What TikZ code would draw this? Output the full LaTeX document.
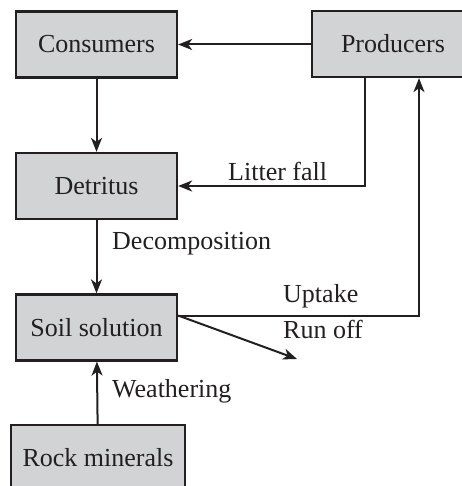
\documentclass[tikz,border=0pt]{standalone}
\usepackage{fontspec}
\setmainfont{Liberation Serif}
\usetikzlibrary{arrows.meta}
\definecolor{boxgray}{RGB}{210,211,213}
\definecolor{ink}{RGB}{35,31,32}
\tikzset{
  box/.style={draw=ink, line width=2.2pt, fill=boxgray, text=ink, minimum width=161pt, minimum height=66pt, inner sep=0pt, font=\fontsize{26}{30}\selectfont},
  flow/.style={draw=ink, line width=2pt, -{Stealth[length=14pt,width=11pt,inset=4pt]}},
  lbl/.style={anchor=base west, inner sep=0pt, text=ink, font=\fontsize{26}{30}\selectfont}
}
\begin{document}
\begin{tikzpicture}[x=1pt,y=-1pt]
\useasboundingbox (0,0) rectangle (461,486);
\node[box] (consumers) at (96.5,44.5) {Consumers};
\node[box, minimum width=162pt] (producers) at (393,44) {Producers};
\node[box] (detritus) at (96.5,186) {Detritus};
\node[box] (soil) at (96.5,327.5) {Soil solution};
\node[box, minimum width=174pt] (rock) at (98,458) {Rock minerals};
\coordinate (soilout) at ([yshift=12pt]soil.east);
\coordinate (runoff) at (297,359);
\draw[flow] (producers.west |- consumers.east) -- (consumers.east);
\draw[flow] (consumers) -- (detritus);
\draw[flow] ([xshift=-28pt]producers.south) |- (detritus.east);
\draw[flow] (detritus) -- (soil);
\draw[flow] (soilout) -| ([xshift=26pt]producers.south);
\draw[flow] (soilout) -- (runoff);
\draw[flow] (rock) -- (soil);
\node[lbl] (litter) at (228,181) {Litter fall};
\node[lbl] (decomp) at (112,249) {Decomposition};
\node[lbl] (uptake) at (283,302) {Uptake};
\node[lbl] (runofflbl) at (283,338) {Run off};
\node[lbl] (weather) at (112,397) {Weathering};
\end{tikzpicture}
\end{document}
